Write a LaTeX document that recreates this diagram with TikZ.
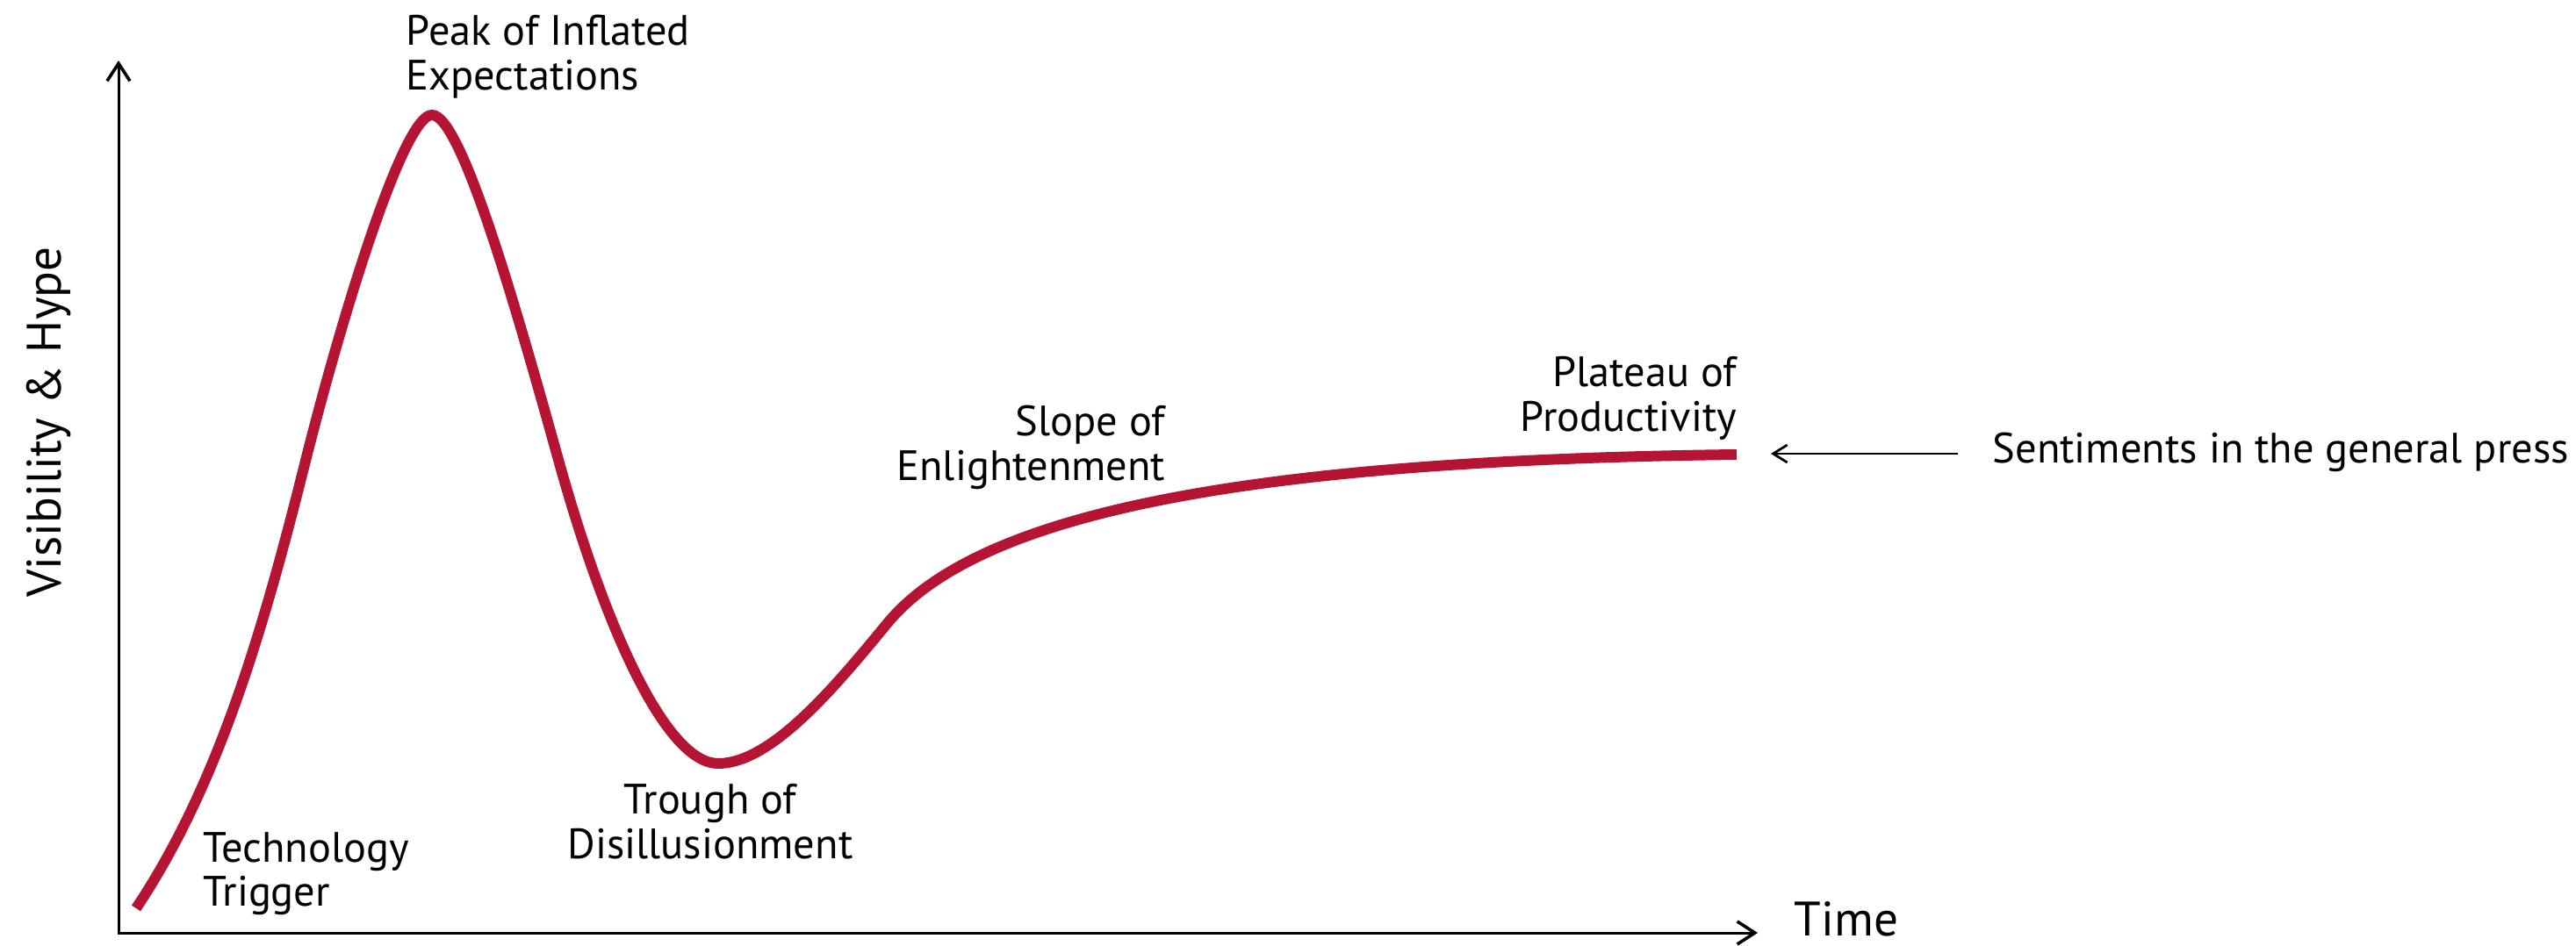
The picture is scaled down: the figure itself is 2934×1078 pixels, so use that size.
\documentclass[tikz,border=0pt]{standalone}
\usepackage{fontspec}
\setmainfont{PT Sans}
\usetikzlibrary{arrows.meta}
\definecolor{hype}{RGB}{181,21,50}
\begin{document}
\begin{tikzpicture}[x=0.25pt,y=-0.25pt,
  axis/.style={line width=0.75pt,-{Straight Barb[length=5pt,width=6.5pt,line width=0.9pt]}},
  lbl/.style={font=\fontsize{12.1}{12.75}\selectfont,inner sep=0pt},
  big/.style={font=\fontsize{13.8}{15}\selectfont,inner sep=0pt},
  hypeline/.style={draw=hype,line width=3pt}]
\useasboundingbox (0,0) rectangle (2934,1078);
\coordinate (O) at (135,1063);
\coordinate (Ytop) at (135,69);
\coordinate (Xend) at (2002,1063);
\draw[axis] (O) -- (Ytop);
\draw[axis] ([xshift=-0.375pt]O) -- (Xend);
\coordinate (start) at (155,1035);
\coordinate (p1) at (346,533);
\coordinate (peakpt) at (492,131);
\coordinate (p2) at (636,524);
\coordinate (troughpt) at (818,870);
\coordinate (p3) at (1010,711);
\coordinate (plat) at (1978,518);
\draw[hypeline] (start)
  .. controls (245,900) and (296,733) .. (p1)
  .. controls (391,353) and (460,131) .. (peakpt)
  .. controls (525,131) and (586,344) .. (p2)
  .. controls (691,722) and (760,870) .. (troughpt)
  .. controls (878,870) and (950,784) .. (p3)
  .. controls (1110,589) and (1400,525) .. (plat);
\node[lbl,anchor=base west] (press) at (2269,528) {Sentiments in the general press};
\coordinate (ps) at (2230,517);
\coordinate (pe) at (2017,517);
\draw[line width=0.6pt,-{Straight Barb[length=4pt,width=5pt,line width=0.7pt]}] (ps) -- (pe);
\node[lbl,anchor=base west,align=left] (peak) at (462,103) {Peak of Inflated\\Expectations};
\node[lbl,anchor=base west,align=left] (trig) at (231,1033) {Technology\\Trigger};
\node[lbl,anchor=base,align=center] (trough) at (809,978) {Trough of\\Disillusionment};
\node[lbl,anchor=base east,align=right] (slope) at (1328,548) {Slope of\\Enlightenment};
\node[lbl,anchor=base east,align=right] (plateau) at (1979,492) {Plateau of\\Productivity};
\node[big,anchor=base west] (time) at (2043,1066) {Time};
\node[big,rotate=90,anchor=base] (vis) at (69,481) {Visibility \& Hype};
\end{tikzpicture}
\end{document}
